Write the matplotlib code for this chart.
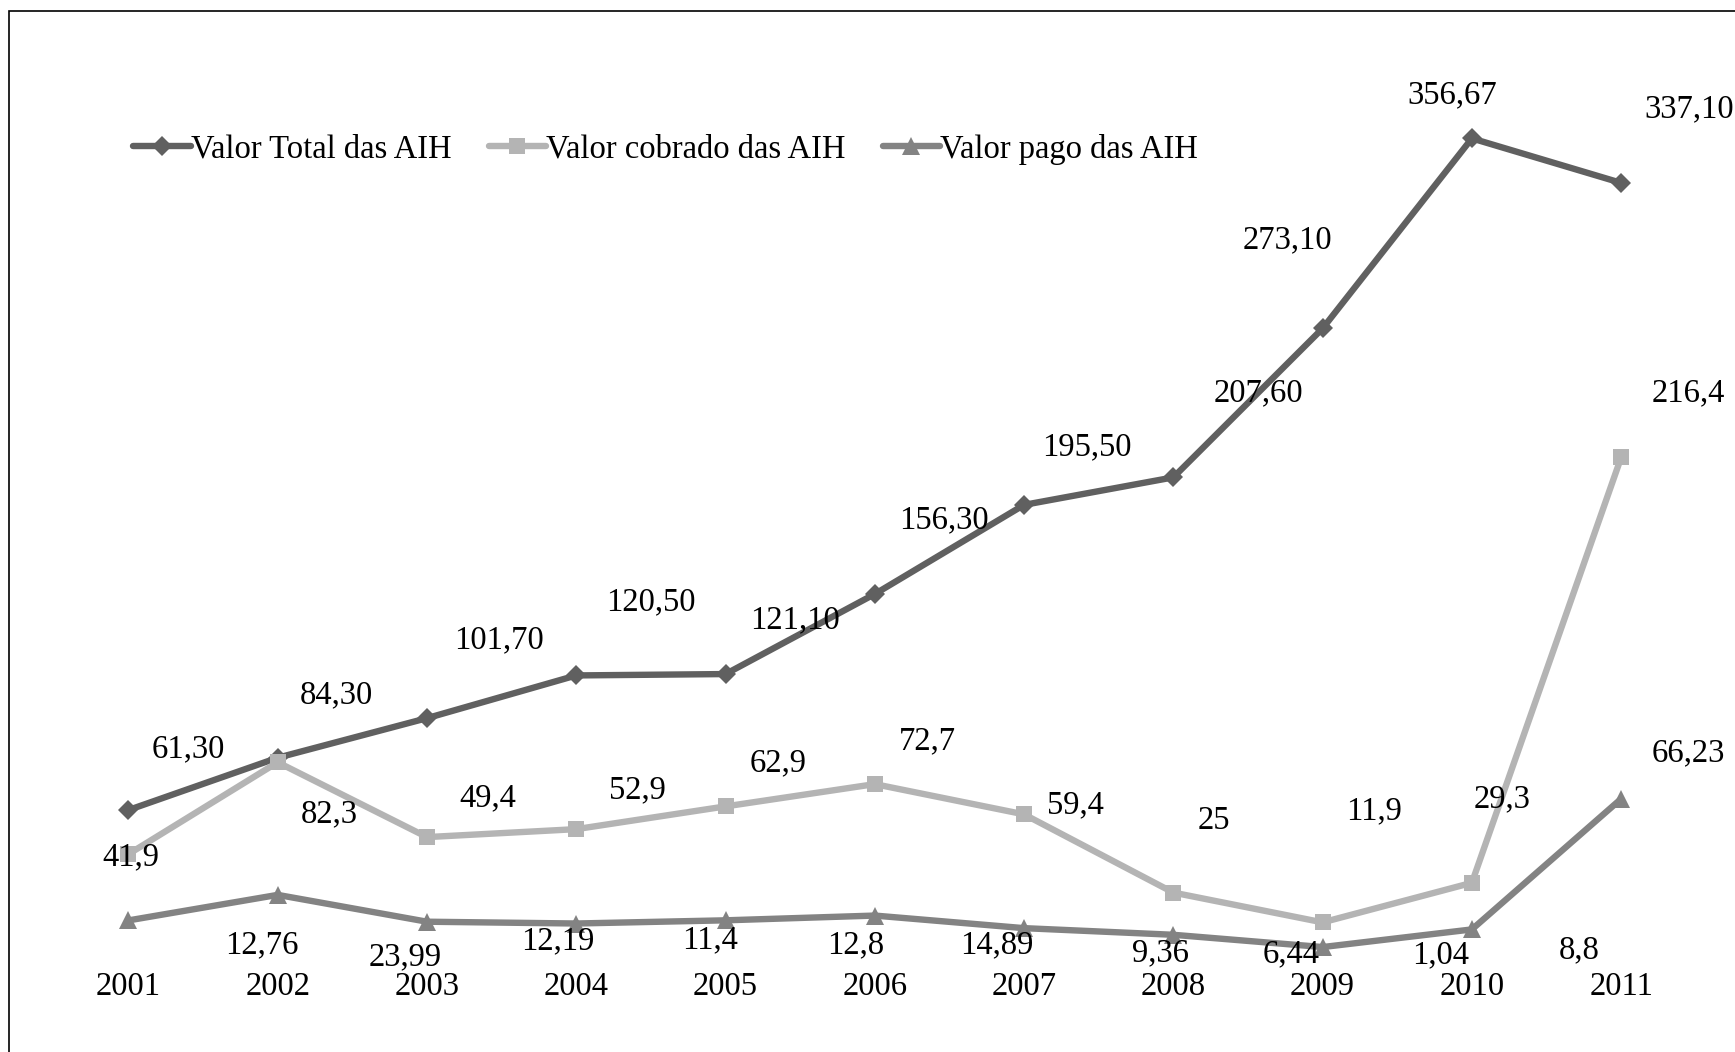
import numpy as np
import matplotlib
matplotlib.use("Agg")
import matplotlib.pyplot as plt
from matplotlib.patches import Rectangle

# Data:
anos = ["2001", "2002", "2003", "2004", "2005", "2006", "2007", "2008", "2009", "2010", "2011"]
valor_total = [61.30, 84.30, 101.70, 120.50, 121.10, 156.30, 195.50, 207.60, 273.10, 356.67, 337.10]
valor_cobrado = [41.9, 82.3, 49.4, 52.9, 62.9, 72.7, 59.4, 25, 11.9, 29.3, 216.4]
valor_pago = [12.76, 23.99, 12.19, 11.4, 12.8, 14.89, 9.36, 6.44, 1.04, 8.8, 66.23]

rotulos_total = ["61,30", "84,30", "101,70", "120,50", "121,10", "156,30", "195,50", "207,60", "273,10", "356,67", "337,10"]
rotulos_cobrado = ["41,9", "82,3", "49,4", "52,9", "62,9", "72,7", "59,4", "25", "11,9", "29,3", "216,4"]
rotulos_pago = ["12,76", "23,99", "12,19", "11,4", "12,8", "14,89", "9,36", "6,44", "1,04", "8,8", "66,23"]

# Label offsets (points), as placed in the original:
off_total = [(43, 44), (42, 45), (52, 56), (54, 53), (50, 39), (50, 53), (45, 42), (61, 61), (-25, 64), (-14, 31), (49, 53)]
off_cobrado = [(2, -2), (37, -37), (44, 28), (44, 28), (38, 31), (38, 31), (37, 7), (29, 52), (37, 80), (22, 60), (48, 46)]
off_pago = [(96, -18), (92, -45), (94, -14), (96, -12), (94, -18), (88, -21), (98, -18), (85, -14), (85, -6), (77, -15), (48, 33)]

fontname = "Liberation Serif"
fs = 23.5

fig = plt.figure(figsize=(17.35, 10.52), dpi=100)
ax = fig.add_axes([0.031, 0.0975, 0.9464, 0.8646])

x = np.arange(len(anos))
series = [
    (valor_total, rotulos_total, off_total, "#606060", "D", 10, "Valor Total das AIH"),
    (valor_cobrado, rotulos_cobrado, off_cobrado, "#b4b4b4", "s", 12, "Valor cobrado das AIH"),
    (valor_pago, rotulos_pago, off_pago, "#838383", "^", 13, "Valor pago das AIH"),
]

for valores, rotulos, offs, cor, marker, ms, nome in series:
    ax.plot(x, valores, color=cor, lw=4.6, marker=marker, markersize=ms,
            markeredgewidth=0, label=nome, clip_on=False, solid_capstyle="round")
    for xi, v, r, o in zip(x, valores, rotulos, offs):
        ax.annotate(r, (xi, v), xytext=o, textcoords="offset points",
                    ha="center", va="center", fontname=fontname, fontsize=fs)

ax.set_xlim(-0.5, 10.5)
ax.set_ylim(0, 400)
ax.set_yticks([])
ax.set_xticks(x)
ax.set_xticklabels(anos, fontname=fontname, fontsize=fs)
ax.tick_params(axis="x", length=0, pad=16)
for s in ax.spines.values():
    s.set_visible(False)

fig.legend(loc="center left", bbox_to_anchor=(0.060, 0.858), ncol=3, frameon=False,
           prop={"family": fontname, "size": fs}, handlelength=1.75, handletextpad=0.0,
           columnspacing=1.15)

# outer frame (only top and left visible)
fig.add_artist(Rectangle((9 / 1735, -0.1), 1.2, 1.1 - 10.5 / 1052, transform=fig.transFigure,
                         fill=False, edgecolor="black", lw=1.2))

fig.savefig("out.png", dpi=100)
